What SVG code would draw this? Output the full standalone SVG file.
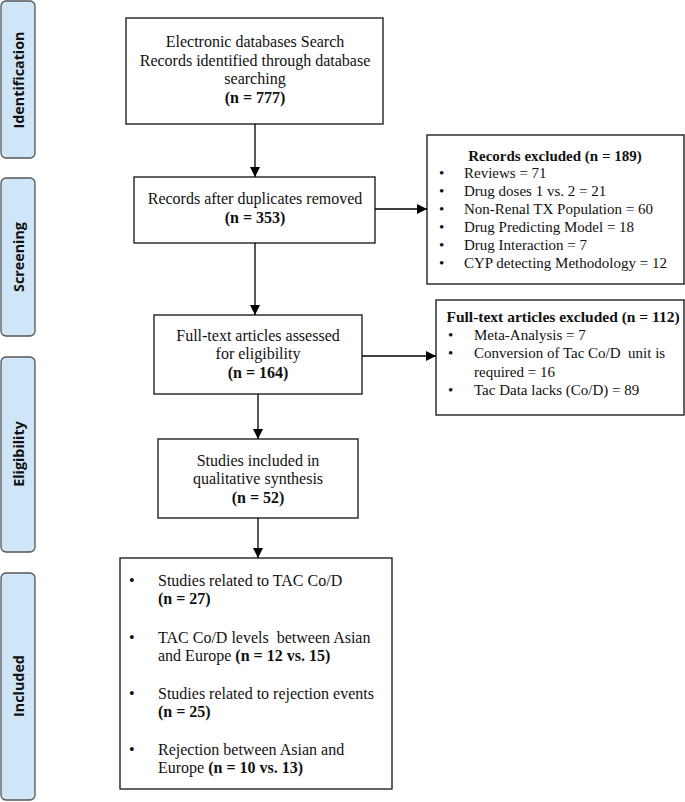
<svg xmlns="http://www.w3.org/2000/svg" width="685" height="802" viewBox="0 0 685 802">
<defs>
<marker id="ah" viewBox="0 0 10 10" refX="10" refY="5" markerWidth="10" markerHeight="10" markerUnits="userSpaceOnUse" orient="auto">
<path d="M0,0 L10,5 L0,10 z" fill="#000"/>
</marker>
</defs>
<style>
.side{fill:#cfe6f8;stroke:#555;stroke-width:1.3}
.st{font-family:"Open Sans","DejaVu Sans",sans-serif;font-weight:bold;font-size:14.3px;fill:#111;text-anchor:middle}
.box{fill:#fff;stroke:#222;stroke-width:1.4}
.t{font-family:"Liberation Serif","Times New Roman",serif;font-size:16px;fill:#111}
.c{text-anchor:middle}
.b{font-weight:bold}
.s{font-size:15px}
.ln{stroke:#000;stroke-width:1.3;fill:none}
</style>
<g id="sidebar-identification"><rect class="side" x="1" y="1" width="34" height="157" rx="5"/><text class="st" transform="translate(23.5,80) rotate(-90)">Identification</text></g>
<g id="sidebar-screening"><rect class="side" x="1" y="178" width="34" height="158" rx="5"/><text class="st" transform="translate(23.5,257) rotate(-90)">Screening</text></g>
<g id="sidebar-eligibility"><rect class="side" x="1" y="357" width="34" height="195" rx="5"/><text class="st" transform="translate(23.5,454) rotate(-90)">Eligibility</text></g>
<g id="sidebar-included"><rect class="side" x="1" y="573" width="34" height="227" rx="5"/><text class="st" transform="translate(23.5,686) rotate(-90)">Included</text></g>

<g id="identification">
<rect class="box" x="126" y="18" width="257" height="106"/>
<text class="t c" x="255" y="47">Electronic databases Search</text>
<text class="t c" x="255" y="66">Records identified through database</text>
<text class="t c" x="255" y="84">searching</text>
<text class="t c b" x="255" y="103">(n = 777)</text>
</g>
<g id="duplicates-removed">
<rect class="box" x="134" y="177" width="241" height="66"/>
<text class="t c" x="255" y="204">Records after duplicates removed</text>
<text class="t c b" x="255" y="223">(n = 353)</text>
</g>
<g id="records-excluded">
<rect class="box" x="427" y="135" width="257" height="149"/>
<text class="t c b s" x="555" y="161">Records excluded (n = 189)</text>
<g class="t s">
<text x="439" y="178">•</text><text x="464" y="178">Reviews = 71</text>
<text x="439" y="196">•</text><text x="464" y="196">Drug doses 1 vs. 2 = 21</text>
<text x="439" y="214">•</text><text x="464" y="214">Non-Renal TX Population = 60</text>
<text x="439" y="232">•</text><text x="464" y="232">Drug Predicting Model = 18</text>
<text x="439" y="250">•</text><text x="464" y="250">Drug Interaction = 7</text>
<text x="439" y="268">•</text><text x="464" y="268">CYP detecting Methodology = 12</text>
</g>
</g>
<g id="fulltext-assessed">
<rect class="box" x="154" y="315" width="208" height="79"/>
<text class="t c" x="258" y="341">Full-text articles assessed</text>
<text class="t c" x="258" y="359">for eligibility</text>
<text class="t c b" x="258" y="378">(n = 164)</text>
</g>
<g id="fulltext-excluded">
<rect class="box" x="436" y="300" width="248" height="115"/>
<text class="t c b" x="563" y="322" style="font-size:15.5px">Full-text articles excluded (n = 112)</text>
<g class="t s">
<text x="448" y="340">•</text><text x="474" y="340">Meta-Analysis = 7</text>
<text x="448" y="358">•</text><text x="474" y="358" xml:space="preserve">Conversion of Tac Co/D  unit is</text>
<text x="474" y="377">required = 16</text>
<text x="448" y="395">•</text><text x="474" y="395">Tac Data lacks (Co/D) = 89</text>
</g>
</g>
<g id="qualitative-synthesis">
<rect class="box" x="158" y="439" width="200" height="79"/>
<text class="t c" x="258" y="466">Studies included in</text>
<text class="t c" x="258" y="484">qualitative synthesis</text>
<text class="t c b" x="258" y="503">(n = 52)</text>
</g>
<g id="included">
<rect class="box" x="120" y="558" width="272" height="231"/>
<g class="t">
<text x="129" y="586">•</text><text x="158" y="586">Studies related to TAC Co/D</text>
<text class="b" x="158" y="604">(n = 27)</text>
<text x="129" y="643">•</text><text x="158" y="643" xml:space="preserve">TAC Co/D levels  between Asian</text>
<text x="158" y="661">and Europe <tspan class="b">(n = 12 vs. 15)</tspan></text>
<text x="129" y="699">•</text><text x="158" y="699">Studies related to rejection events</text>
<text class="b" x="158" y="717">(n = 25)</text>
<text x="129" y="755">•</text><text x="158" y="755">Rejection between Asian and</text>
<text x="158" y="773">Europe <tspan class="b">(n = 10 vs. 13)</tspan></text>
</g>
</g>

<g id="connectors">
<line class="ln" x1="255" y1="124" x2="255" y2="177" marker-end="url(#ah)"/>
<line class="ln" x1="375" y1="209" x2="427" y2="209" marker-end="url(#ah)"/>
<line class="ln" x1="255" y1="243" x2="255" y2="315" marker-end="url(#ah)"/>
<line class="ln" x1="362" y1="356" x2="436" y2="356" marker-end="url(#ah)"/>
<line class="ln" x1="258" y1="394" x2="258" y2="439" marker-end="url(#ah)"/>
<line class="ln" x1="258" y1="518" x2="258" y2="558" marker-end="url(#ah)"/>
</g>
</svg>
